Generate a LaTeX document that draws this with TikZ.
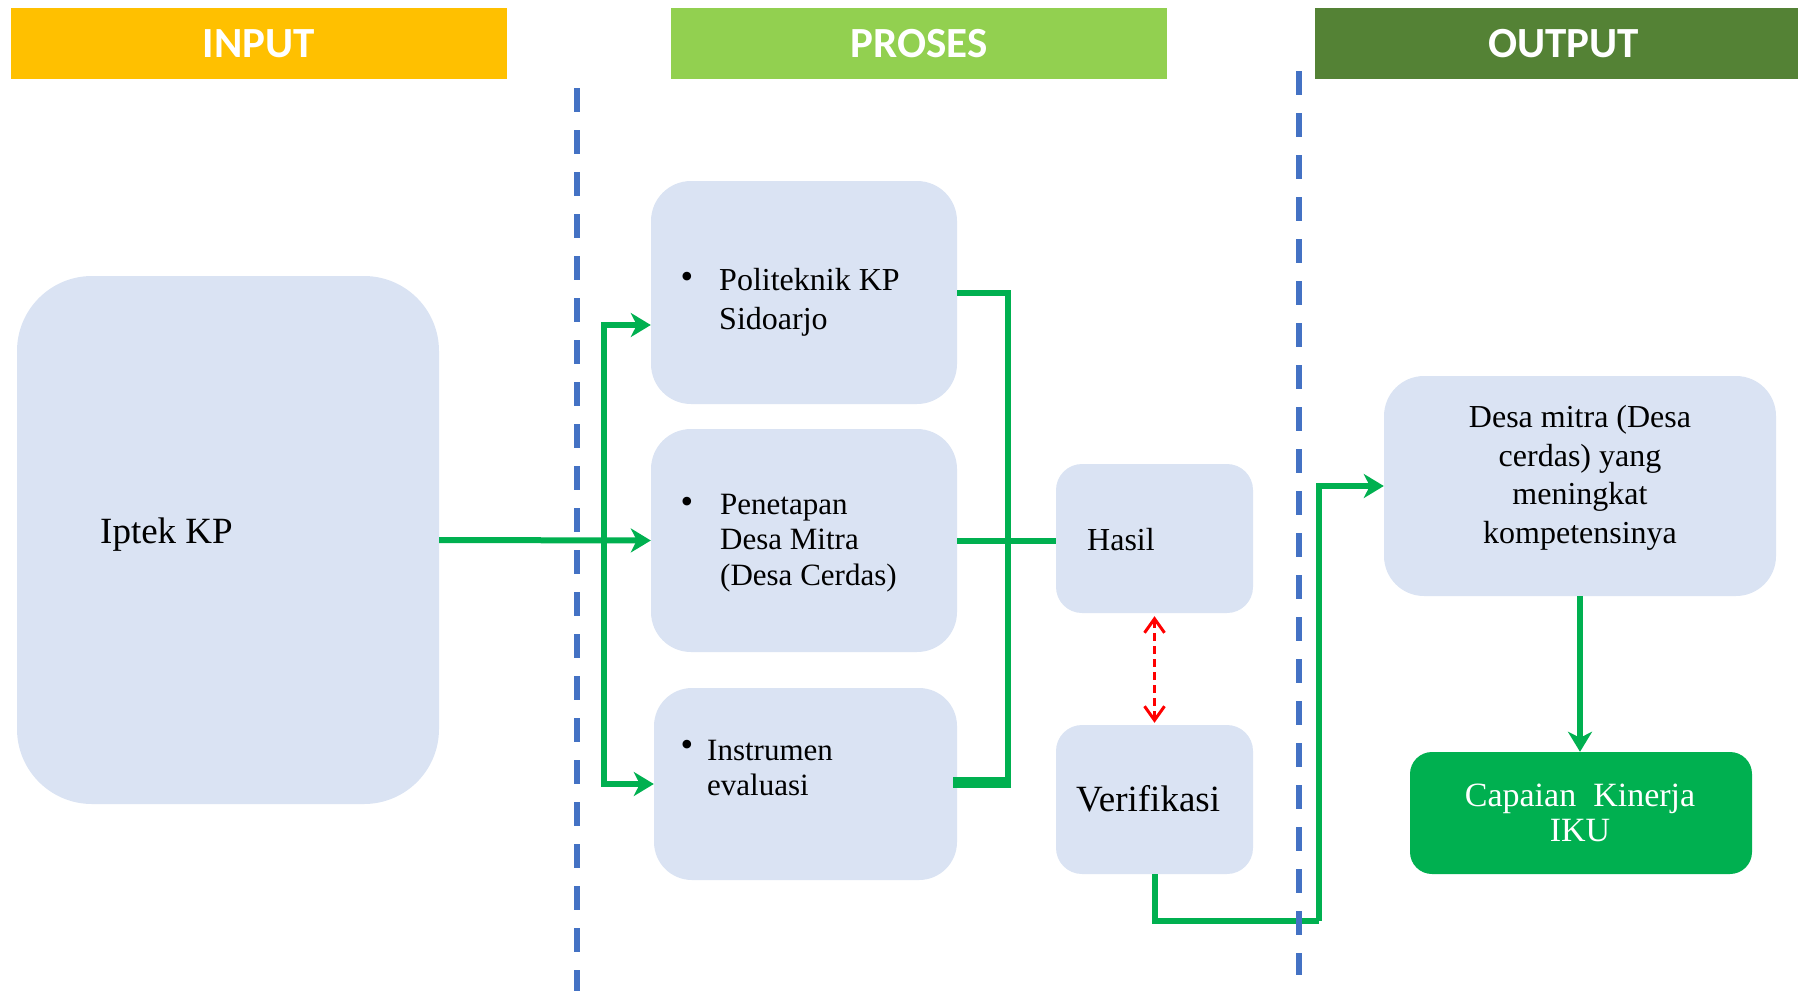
\documentclass[tikz,border=0pt]{standalone}
\usepackage{fontspec}
\setmainfont{Liberation Serif}
\newfontfamily\hdrfont{Carlito}
\usetikzlibrary{arrows.meta}
\definecolor{cin}{HTML}{FFC000}
\definecolor{cpro}{HTML}{92D050}
\definecolor{cout}{HTML}{548235}
\definecolor{boxc}{HTML}{DAE3F3}
\definecolor{dashblue}{HTML}{4472C4}
\definecolor{gline}{HTML}{00B050}
\definecolor{rline}{HTML}{FF0000}
\tikzset{
  hdr/.style={inner sep=0pt, minimum height=71pt, text=white, font=\hdrfont\bfseries\fontsize{43}{50}\selectfont},
  box/.style={fill=boxc, draw=none, inner sep=0pt},
  txt/.style={inner sep=0pt, align=left, text=black},
  bul/.style={inner sep=0pt, font=\fontsize{36}{36}\selectfont},
  gconn/.style={draw=gline, line width=6pt},
  garrow/.style={gconn, -{Stealth[length=20pt,width=24pt,inset=6pt]}},
  rarrow/.style={draw=rline, line width=3pt, dash pattern=on 8pt off 5pt, {Straight Barb[length=14pt,width=20pt,line width=3pt]}-{Straight Barb[length=14pt,width=20pt,line width=3pt]}},
  divider/.style={draw=dashblue, line width=6pt, dash pattern=on 24pt off 18pt},
}
\begin{document}
\begin{tikzpicture}[x=1pt,y=-1pt]
\useasboundingbox (0,0) rectangle (1798,991);

% headers
\node[hdr, fill=cin, minimum width=496pt] (hin) at (259,43.5) {INPUT};
\node[hdr, fill=cpro, minimum width=496pt] (hpro) at (919,43.5) {PROSES};
\node[hdr, fill=cout, minimum width=483pt] (hout) at (1556.5,43.5) {\hspace{14pt}OUTPUT};

% boxes
\node[box, rounded corners=75pt, minimum width=422pt, minimum height=528pt] (iptek) at (228,540) {};
\node[box, rounded corners=40pt, minimum width=306pt, minimum height=223pt] (polit) at (804,292.5) {};
\node[box, rounded corners=40pt, minimum width=306pt, minimum height=223pt] (pen) at (804,540.5) {};
\node[box, rounded corners=38pt, minimum width=303pt, minimum height=192pt] (instr) at (805.5,784) {};
\node[box, rounded corners=26pt, minimum width=197pt, minimum height=149pt] (hasil) at (1154.5,538.5) {};
\node[box, rounded corners=26pt, minimum width=197pt, minimum height=149pt] (verif) at (1154.5,799.5) {};
\node[box, rounded corners=40pt, minimum width=392pt, minimum height=220pt] (desa) at (1580,486) {};
\node[fill=gline, draw=none, inner sep=0pt, rounded corners=22pt, minimum width=342pt, minimum height=122pt] (cap) at (1581,813) {};

% texts
\node[txt, anchor=west, font=\fontsize{37}{44}\selectfont] (tiptek) at (100,535) {Iptek KP};
\node[bul] (b1) at (687,280) {•};
\node[txt, anchor=west, font=\fontsize{32}{39}\selectfont] (tpolit) at (719,302) {Politeknik KP\\Sidoarjo};
\node[bul] (b2) at (687,505) {•};
\node[txt, anchor=west, font=\fontsize{31}{35.5}\selectfont] (tpen) at (720,543) {Penetapan\\Desa Mitra\\(Desa Cerdas)};
\node[bul] (b3) at (687,748) {•};
\node[txt, anchor=west, font=\fontsize{31}{35}\selectfont] (tinstr) at (707,768) {Instrumen\\evaluasi};
\node[txt, anchor=west, font=\fontsize{32}{38}\selectfont] (thasil) at (1087,540) {Hasil};
\node[txt, anchor=west, font=\fontsize{37}{44}\selectfont] (tverif) at (1076,799) {Verifikasi};
\node[txt, align=center, font=\fontsize{32}{38.5}\selectfont] (tdesa) at (1580,478) {Desa mitra (Desa\\cerdas) yang\\meningkat\\kompetensinya};
\node[txt, align=center, text=white, font=\fontsize{34}{35}\selectfont] (tcap) at (1580,813) {Capaian\ \ Kinerja\\IKU};

% connectors
\coordinate (jl) at (604,540);
\coordinate (jr) at (1008,782);
\coordinate (vb) at (1319,921);
\draw[garrow] (iptek.east) -- (pen.west);
\draw[garrow] (jl) |- (polit.west |- 0,325);
\draw[garrow] (jl) |- (instr.west |- 0,784);
\draw[gconn] (polit.east) -| (jr);
\draw[draw=gline, line width=11pt] (jr) ++(3,0) -- ([xshift=-4pt]instr.east |- jr);
\draw[gconn] (pen.east) -- (hasil.west |- pen.east);
\draw[rarrow, shorten <=3pt, shorten >=2pt] (hasil.south) -- (verif.north);
\draw[gconn] (verif.south) |- (vb);
\draw[garrow] (vb) |- (desa.west);
\draw[garrow] (desa.south) -- (cap.north -| desa.south);

% dividers
\coordinate (d1t) at (577,88);
\coordinate (d1b) at (577,991);
\coordinate (d2t) at (1299,71);
\coordinate (d2b) at (1299,975);
\draw[divider] (d1t) -- (d1b);
\draw[divider] (d2t) -- (d2b);
\end{tikzpicture}
\end{document}
